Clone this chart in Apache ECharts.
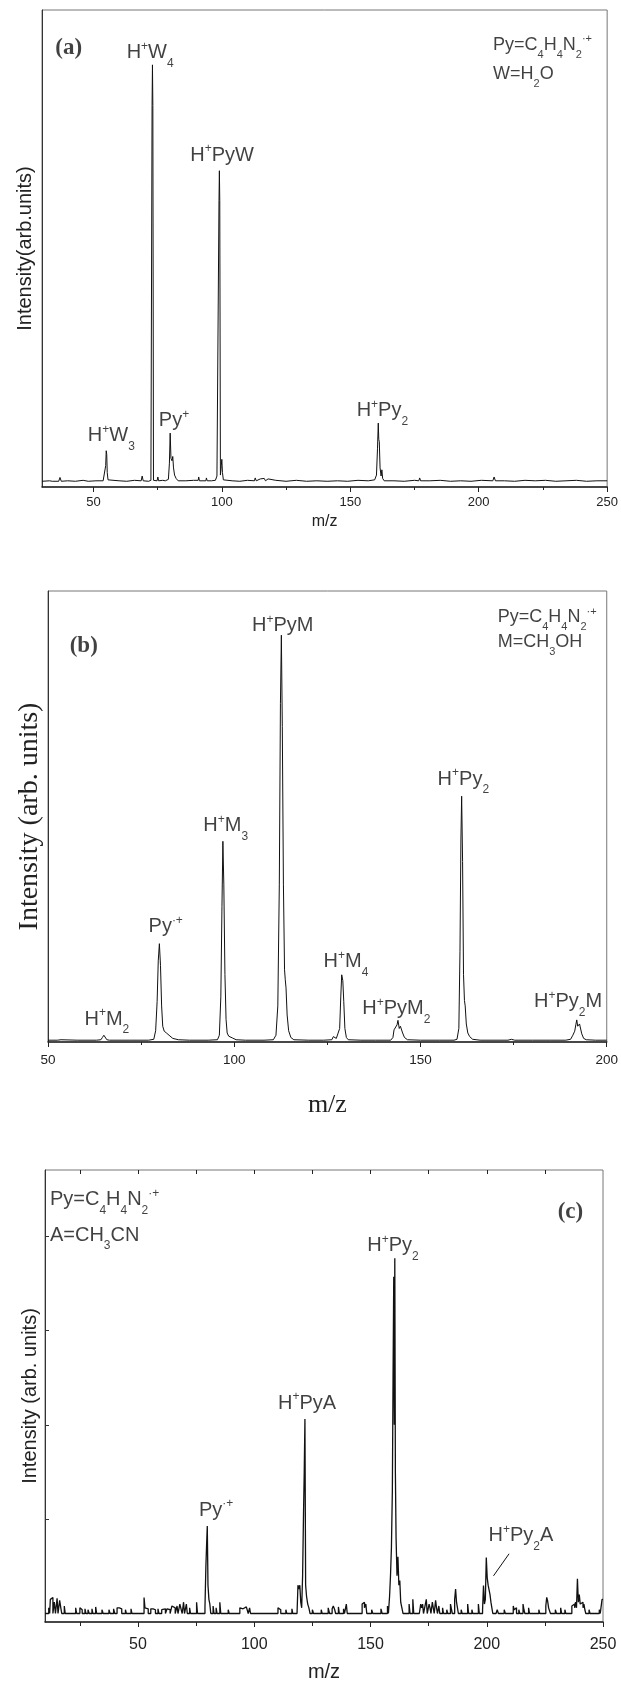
<!DOCTYPE html>
<html><head><meta charset="utf-8">
<script src="https://cdn.jsdelivr.net/npm/echarts@6/dist/echarts.min.js"></script>
<style>html,body{margin:0;padding:0;background:#fff}#c{width:621px;height:1684px}</style>
</head><body><div id="c"></div>
<script>
const SANS = "'Liberation Sans', Arial, Helvetica, sans-serif";
const SERIF = "'Liberation Serif', 'Times New Roman', serif";

// ---------- Panel (a): water ----------
const specA = [[30,1.2],[33,1.3],[34,1.2],[36.5,1.2],[37,2.0],[37.5,1.2],[40,1.3],[43,1.2],[46,1.4],[48,1.2],[51,1.3],[53.8,1.3],
[54.4,1.6],[54.8,4.5],[55,7.6],[55.2,6.8],[55.4,3.0],[55.7,1.5],[56.2,1.2],
[60,1.3],[63,1.2],[66,1.4],[68.6,1.3],[69,2.3],[69.4,1.3],[71.5,1.2],[72.4,1.4],
[72.6,1.3],[72.85,80],[73.0,88.5],[73.15,80],[73.4,1.4],[73.8,1.2],
[74.8,1.3],[75.1,2.1],[75.4,1.3],[77,1.4],[78,1.3],[79.2,1.6],[79.6,5],[79.9,11.3],[80.2,6],[80.6,5.5],[80.9,6.4],[81.2,4],[81.6,2.5],[82.2,1.8],[83,1.3],
[86,1.3],[89,1.4],[90.8,1.4],[91,2.1],[91.3,1.3],[93.8,1.3],[94,1.9],[94.3,1.3],[96,1.3],[97.5,1.4],[98.1,2.3],[98.5,2.5],
[98.7,2.4],[98.9,60],[99.05,66.3],[99.2,60],[99.45,2.5],[99.8,4.5],[100.0,5.8],[100.25,3],[100.6,1.5],[101,1.2],
[104,1.3],[107,1.2],[110,1.4],[112.7,1.3],[113,1.9],[113.4,1.3],[115,1.7],[115.5,1.4],[116.5,1.8],[117,1.3],[118,1.7],[118.5,1.3],[121,1.4],[125,1.2],[129,1.4],[133,1.2],[137,1.3],[141,1.2],[145,1.3],[149,1.2],[153,1.4],[157,1.3],[159.5,1.5],
[160.2,2.5],[160.6,8],[160.9,13.4],[161.1,10],[161.3,9.5],[161.6,4],[162.0,2.3],[162.3,3.6],[162.6,1.8],[163.2,1.3],
[167,1.3],[171,1.2],[175,1.4],[176.7,1.3],[177,1.9],[177.4,1.3],[181,1.3],[185,1.4],[189,1.2],[193,1.3],[197,1.2],[201,1.4],[205.5,1.3],[206,2.1],[206.5,1.3],[210,1.3],[214,1.2],[218,1.4],[222,1.3],[226,1.4],[230,1.2],[234,1.3],[238,1.4],[242,1.2],[246,1.3],[250,1.3]];
const ticksA = [50,100,150,200,250];
const minorA = [75,125,175,225];
const peakLabelsA = [
  ['{n|H}{sp|+}{n|W}{sb|4}', 72.1, 91.1],
  ['{n|H}{sp|+}{n|PyW}', 100.1, 69.6],
  ['{n|H}{sp|+}{n|W}{sb|3}', 57.0, 10.8],
  ['{n|Py}{sp|+}', 81.4, 14.0],
  ['{n|H}{sp|+}{n|Py}{sb|2}', 162.5, 16.1]
];
const keyA = [
  ['{n|Py=C}{sb|4}{n|H}{sb|4}{n|N}{sb|2}{sp|·+}', 205.4, 92.7],
  ['{n|W=H}{sb|2}{n|O}', 205.4, 86.6]
];
const tagA = ['(a)', 40.4, 92.0];

// ---------- Panel (b): methanol ----------
const specB = [[50,0.4],[52.5,0.4],[53,0.8],[53.5,0.5],[54,0.4],[58,0.4],[63,0.4],[64.2,0.5],[64.6,1.0],[65,1.5],[65.4,1.1],[65.8,0.5],[66.5,0.4],[72,0.4],[77,0.4],
[78.4,0.6],[78.9,2.5],[79.3,9],[79.6,18],[79.9,21.8],[80.2,17],[80.5,8],[80.8,3.5],[81.2,2.4],[81.8,2.0],[82.5,1.5],[83.5,0.8],[85,0.5],[88,0.4],[93,0.4],
[95.5,0.5],[96,1.5],[96.4,10],[96.7,30],[96.95,44.5],[97.2,35],[97.5,15],[97.8,5],[98.1,2.0],[98.5,1.3],[99.5,0.9],[100.5,0.5],[103,0.4],[108,0.4],
[110.5,0.5],[111.2,1.5],[111.7,8],[112.1,35],[112.4,75],[112.65,90.2],[112.9,70],[113.2,35],[113.5,16],[113.7,13.8],[113.9,12],[114.2,6],[114.6,2.5],[115.2,1.0],[116,0.5],[120,0.4],[124,0.4],
[126.2,0.5],[126.6,1.2],[127,1.5],[127.4,0.8],[127.9,0.7],[128.3,3],[128.6,10],[128.85,14.9],[129.15,13.6],[129.4,9],[129.7,3],[130.1,1.0],[130.6,0.5],[134,0.4],[138,0.4],
[142,0.4],[142.6,1.0],[142.9,2.7],[143.1,2.4],[143.4,2.3],[143.7,3.8],[143.95,4.8],[144.3,3.0],[144.6,3.5],[144.85,3.4],[145.2,2.0],[145.7,1.0],[146.5,0.5],[150,0.4],[155,0.4],
[159,0.4],[159.8,0.6],[160.3,3],[160.6,20],[160.85,45],[161.05,54.5],[161.3,40],[161.55,15],[161.8,9.2],[162.0,8],[162.3,4],[162.7,2],[163.2,1.2],[164,0.6],[166,0.4],[170,0.4],
[173.5,0.4],[174,0.8],[174.4,0.6],[174.8,0.8],[175.3,0.4],[180,0.4],[185,0.4],[189,0.4],
[190.3,0.6],[190.9,1.5],[191.4,2.4],[191.7,3.8],[191.95,4.9],[192.2,3.5],[192.45,3.2],[192.7,4.0],[192.95,3.6],[193.3,1.8],[193.8,0.8],[194.5,0.5],[197,0.4],[200,0.4]];
const ticksB = [50,100,150,200];
const minorB = [75,125,175];
const peakLabelsB = [
  ['{n|H}{sp|+}{n|PyM}', 113.0, 92.4],
  ['{n|H}{sp|+}{n|M}{sb|3}', 97.7, 47.9],
  ['{n|H}{sp|+}{n|Py}{sb|2}', 161.5, 58.3],
  ['{n|Py}{sp|·+}', 81.6, 25.6],
  ['{n|H}{sp|+}{n|M}{sb|4}', 130.0, 17.8],
  ['{n|H}{sp|+}{n|PyM}{sb|2}', 143.5, 7.4],
  ['{n|H}{sp|+}{n|Py}{sb|2}{n|M}', 189.6, 8.9],
  ['{n|H}{sp|+}{n|M}{sb|2}', 65.8, 5.1]
];
const keyB = [
  ['{n|Py=C}{sb|4}{n|H}{sb|4}{n|N}{sb|2}{sp|·+}', 170.6, 94.2],
  ['{n|M=CH}{sb|3}{n|OH}', 170.6, 88.7]
];
const tagB = ['(b)', 59.6, 87.8];

// ---------- Panel (c): acetonitrile ----------
const specC = [[10,0],
[11.6,60],[12.0,0],[12.3,150],[12.8,170],[13.4,0],[14.0,120],[14.5,0],[15.2,160],[15.6,0],[16.3,140],[16.8,60],[17.2,0],[18.3,80],[18.7,0],
[21,0],[23.2,60],[23.6,0],[25.0,60],[25.5,40],[26.0,0],[27.2,50],[27.6,0],[28.5,40],[29.0,0],[30.2,50],[30.6,0],[31.8,70],[32.2,0],[34.5,40],[35,0],[37.5,40],[38,0],[39.5,50],[40,0],[41,60],[42,50],[43,0],[44.6,40],[45,0],[47,50],[47.4,0],
[52.6,170],[53,60],[53.6,50],[54.4,0],[55.5,50],[56.5,40],[57.5,0],[58.6,50],[59,0],[60.2,40],[61,50],[61.8,0],[62.5,50],[63,40],[63.8,0],[64.6,80],[65.4,60],[66,0],[66.8,80],[67.2,0],[68,100],[68.5,50],[69,0],[69.6,120],[70,0],[70.8,100],[71.2,0],[72.2,60],[72.6,0],[75.2,120],[75.6,0],[77,0],
[78.8,60],[79.2,500],[79.5,722],[79.8,928],[80.1,300],[80.5,150],[80.9,100],[81.3,0],[82.3,80],[82.7,0],[83.6,60],[84,0],[85.2,120],[85.6,0],
[88.8,40],[89.2,0],[93.8,60],[94.4,50],[95.2,70],[96.6,60],[97.4,0],[98,60],[98.4,0],
[105,0],[110.2,60],[110.8,40],[111.4,0],[113.6,40],[114,0],[116.2,50],[116.6,0],
[118.4,0],[118.8,300],[119.2,260],[119.6,300],[120,120],[120.4,60],[120.8,400],[121.2,1072],[121.5,1500],[121.8,2062],[122.1,300],[122.5,180],[123,100],[123.5,60],[124,0],[125,40],[125.5,0],[128.8,40],[129.2,0],[131.8,60],[132.4,0],[133.5,50],[134,80],[134.6,40],[135,0],[136.2,70],[136.6,0],[138.4,50],[138.8,0],[139.6,100],[140,0],
[144,0],[146.4,100],[146.8,120],[147.4,60],[148,100],[148.4,0],[150.5,40],[151,0],[154.5,50],[155,0],[157.3,80],[157.7,0],
[158.2,180],[158.6,400],[159,700],[159.4,1300],[159.7,2500],[160.0,3570],[160.25,2000],[160.45,3766],[160.7,1500],[161.0,800],[161.4,400],[161.8,600],[162.2,300],[162.6,350],[163.0,120],[163.5,60],[164,0],[165,0],[166.6,100],[167,0],[168.2,150],[168.6,0],
[171,0],[171.6,100],[172,60],[172.4,100],[172.8,0],[173.6,100],[174,150],[174.4,0],[175.2,100],[175.6,60],[176,0],[176.6,120],[177,60],[177.4,0],[178,140],[178.4,60],[178.8,0],[179.4,80],[179.8,0],[181,60],[181.4,0],[182.8,40],[183.2,0],[184.4,100],[184.8,50],[185.2,0],
[186.2,150],[186.6,258],[187,120],[187.4,60],[187.8,0],[189,40],[189.4,0],[191.8,100],[192.2,0],[193.6,40],[194,0],[196.4,100],[196.8,0],
[198.2,40],[198.6,297],[199,100],[199.4,150],[199.8,593],[200.2,378],[200.6,300],[201,250],[201.4,200],[201.8,120],[202.2,60],[202.6,0],[204,0],[204.5,40],[205,0],[207.5,40],[208,0],
[211.4,80],[211.8,40],[212.4,60],[212.8,0],[213.8,40],[214.2,0],[215.6,100],[216,40],[216.4,0],[218,60],[218.4,0],[220,0],[222.4,40],[222.8,0],[225.4,80],[225.8,172],[226.2,130],[226.6,60],[227,40],[227.4,0],[229.5,40],[230,0],[231.8,60],[232.2,0],[233.6,40],[234,0],
[236.6,80],[237,60],[237.4,100],[237.8,60],[238.2,120],[238.6,60],[239,368],[239.4,120],[239.8,200],[240.2,100],[240.6,80],[241,120],[241.4,60],[241.8,100],[242.2,40],[242.6,0],[244,40],[244.4,0],[246,0],[248.4,40],[248.8,0],[249.6,150],[250,150]];
const ticksC = [50,100,150,200,250];
const minorC = [25,75,125,175,225];
const topTicksC = [25,50,75,100,125,150,175,200,225];
const yTicksC = [1000,2000,3000,4000];
const peakLabelsC = [
  ['{n|H}{sp|+}{n|Py}{sb|2}', 159.7, 3895],
  ['{n|H}{sp|+}{n|PyA}', 122.7, 2230],
  ['{n|Py}{sp|·+}', 83.6, 1095],
  ['{n|H}{sp|+}{n|Py}{sb|2}{n|A}', 214.7, 829]
];
const keyC = [
  ['{n|Py=C}{sb|4}{n|H}{sb|4}{n|N}{sb|2}{sp|·+}', 11.9, 4384],
  ['{n|A=CH}{sb|3}{n|CN}', 11.9, 4010]
];
const tagC = ['(c)', 236, 4255];
const leaderC = [[202.9, 399], [209.6, 633]];

// ---------- helpers ----------
function rich(F, fam) {
  const s = Math.round(F * 0.6);
  const c = '#111';
  return {
    n: {fontSize: F, fontFamily: fam, color: c, lineHeight: Math.round(F * 1.2)},
    sp: {fontSize: s, fontFamily: fam, color: c, lineHeight: s, padding: [0, 0, Math.round(F * 0.6), 0]},
    sb: {fontSize: s, fontFamily: fam, color: c, lineHeight: s, padding: [Math.round(F * 1.1), 0, 0, 0]}
  };
}
function textSeries(idx, items, F, position) {
  return {
    type: 'scatter', xAxisIndex: idx.x, yAxisIndex: idx.y, symbolSize: 1, silent: true, z: 10,
    itemStyle: {color: 'transparent'},
    label: {show: true, position: position, distance: 0, rich: rich(F, SANS), color: '#111'},
    data: items.map(([t, x, y]) => ({value: [x, y], label: {formatter: t}}))
  };
}
function tagSeries(idx, tag) {
  return {
    type: 'scatter', xAxisIndex: idx.x, yAxisIndex: idx.y, symbolSize: 1, silent: true, z: 10,
    itemStyle: {color: 'transparent'},
    label: {show: true, position: 'inside', formatter: tag[0], fontFamily: SERIF, fontWeight: 'bold', fontSize: 23, color: '#111'},
    data: [[tag[1], tag[2]]]
  };
}
function mainX(grid, min, max, ticks, fs, margin, name, nameFont, nameSize, nameGap) {
  return {
    type: 'value', gridIndex: grid, min: min, max: max, position: 'bottom',
    axisLine: {show: true, onZero: false, lineStyle: {color: '#222', width: 1.5}},
    axisTick: {show: true, inside: false, length: 5, customValues: ticks, lineStyle: {color: '#222'}},
    axisLabel: {show: true, customValues: ticks, fontSize: fs, fontFamily: SANS, color: '#222', margin: margin},
    splitLine: {show: false},
    name: name, nameLocation: 'middle', nameGap: nameGap,
    nameTextStyle: {fontFamily: nameFont, fontSize: nameSize, color: '#222'}
  };
}
function minorX(grid, min, max, ticks, pos, inside, len) {
  return {
    type: 'value', gridIndex: grid, min: min, max: max, position: pos,
    axisLine: {show: false, onZero: false},
    axisTick: {show: true, inside: inside, length: len, customValues: ticks, lineStyle: {color: '#222'}},
    axisLabel: {show: false}, splitLine: {show: false}
  };
}
function mainY(grid, min, max, name, nameFont, nameSize, nameGap, ticks) {
  return {
    type: 'value', gridIndex: grid, min: min, max: max,
    axisLine: {show: true, onZero: false, lineStyle: {color: '#333', width: 1}},
    axisTick: ticks ? {show: true, inside: true, length: 4, customValues: ticks, lineStyle: {color: '#333'}} : {show: false},
    axisLabel: {show: false}, splitLine: {show: false},
    name: name, nameLocation: 'middle', nameGap: nameGap,
    nameTextStyle: {fontFamily: nameFont, fontSize: nameSize, color: '#222'}
  };
}
function spectrum(idx, data, step, w) {
  return {
    type: 'line', xAxisIndex: idx.x, yAxisIndex: idx.y, data: data, step: step || false,
    showSymbol: false, symbol: 'none', silent: true, z: 3,
    lineStyle: {color: '#111', width: w || 1}
  };
}

const A = {x: 0, y: 0}, B = {x: 2, y: 1}, C = {x: 4, y: 2};
const option = {
  animation: false,
  backgroundColor: '#fff',
  grid: [
    {left: 42, top: 10, width: 569, height: 477, show: true, borderColor: '#777', borderWidth: 1, backgroundColor: 'transparent'},
    {left: 48, top: 591, width: 560, height: 451, show: true, borderColor: '#777', borderWidth: 1, backgroundColor: 'transparent'},
    {left: 45, top: 1170, width: 558, height: 452, show: true, borderColor: '#777', borderWidth: 1, backgroundColor: 'transparent'}
  ],
  xAxis: [
    mainX(0, 30, 250, ticksA, 13, 9, 'm/z', SANS, 16, 27),
    minorX(0, 30, 250, minorA, 'bottom', false, 3),
    mainX(1, 50, 200, ticksB, 13.5, 11, 'm/z', SERIF, 26, 50),
    minorX(1, 50, 200, minorB, 'bottom', false, 3),
    mainX(2, 10, 250, ticksC, 16, 15, 'm/z', SANS, 20, 40),
    minorX(2, 10, 250, minorC, 'bottom', false, 4),
    minorX(2, 10, 250, topTicksC, 'top', true, 4)
  ],
  yAxis: [
    mainY(0, 0, 100, 'Intensity(arb.units)', SANS, 20, 7),
    mainY(1, 0, 100, 'Intensity (arb. units)', SERIF, 28, 4),
    mainY(2, -90, 4700, 'Intensity (arb. units)', SANS, 20, 5, yTicksC)
  ],
  series: [
    spectrum(A, specA),
    spectrum(B, specB),
    spectrum(C, specC, 'end', 1.3),
    textSeries(A, peakLabelsA, 20, 'inside'),
    textSeries(A, keyA, 18, 'right'),
    tagSeries(A, tagA),
    textSeries(B, peakLabelsB, 20, 'inside'),
    textSeries(B, keyB, 18, 'right'),
    tagSeries(B, tagB),
    textSeries(C, peakLabelsC, 20, 'inside'),
    textSeries(C, keyC, 20, 'right'),
    tagSeries(C, tagC),
    {type: 'line', xAxisIndex: 4, yAxisIndex: 2, data: leaderC, showSymbol: false, symbol: 'none', silent: true, z: 4,
     lineStyle: {color: '#111', width: 1}}
  ]
};
const chart = echarts.init(document.getElementById('c'), null, {renderer: 'canvas'});
chart.setOption(option);
</script></body></html>
